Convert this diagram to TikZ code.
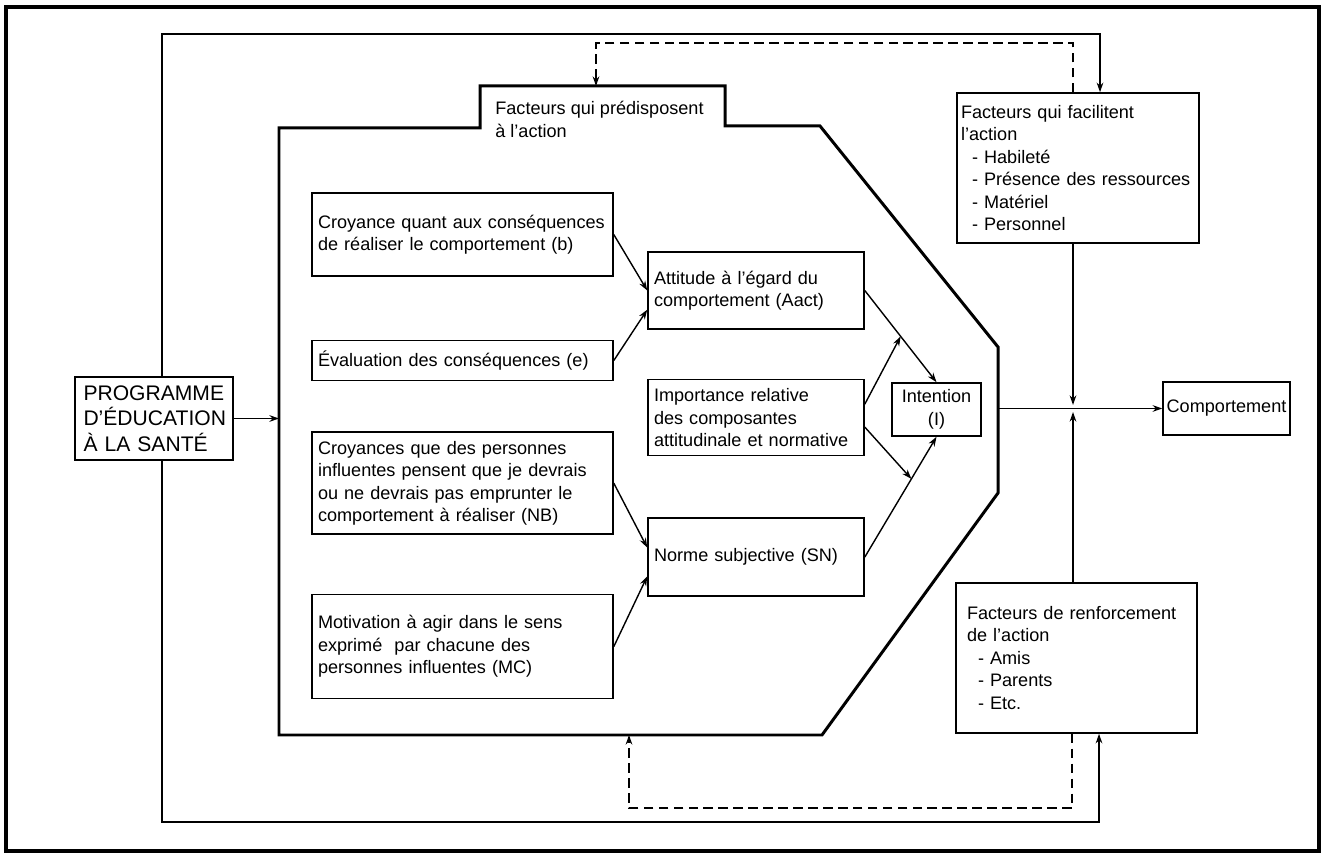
\documentclass[tikz,border=0pt]{standalone}
\usepackage{fontspec}
\setmainfont{Liberation Sans}
\usepackage{tikz}
\usetikzlibrary{arrows.meta,positioning}
\newcommand{\bodysize}{\fontsize{10.3pt}{12.8pt}\selectfont}
\newcommand{\progsize}{\fontsize{12pt}{14.5pt}\selectfont}
\newcommand{\itm}{\hspace*{0.22cm}- }

\begin{document}
\begin{tikzpicture}[
    x=0.02cm, y=-0.02cm,
    box/.style={rectangle, draw=black, line width=0.9pt, fill=white, font=\bodysize, align=left, inner xsep=0.12cm, inner ysep=0pt},
    leftbox/.style={box, text width=5.78cm, minimum height=#1},
    midbox/.style={box, text width=4.08cm, minimum height=#1},
    hexa/.style={line width=1.7pt, line join=miter},
    frame/.style={line width=0.8pt},
    arrow/.style={-{Stealth[length=5.5pt, width=3.8pt]}, line width=0.8pt},
    dasharrow/.style={arrow, dash pattern=on 5.5pt off 3pt},
    lbl/.style={font=\bodysize, align=left, inner sep=0pt}
]
\useasboundingbox (0,0) rectangle (1324,857);
\draw[line width=2.3pt] (6,7) rectangle (1319,851);

% Predisposing factors
\coordinate (h1) at (279,128);
\coordinate (h2) at (480,128);
\coordinate (h3) at (480,86);
\coordinate (h4) at (725,86);
\coordinate (h5) at (725,126);
\coordinate (h6) at (820,126);
\coordinate (h7) at (998,347);
\coordinate (h8) at (998,493);
\coordinate (h9) at (822,735);
\coordinate (h10) at (279,735);
\draw[hexa] (h1) -- (h2) -- (h3) -- (h4) -- (h5) -- (h6) -- (h7) -- (h8) -- (h9) -- (h10) -- cycle;
\node[lbl, anchor=north west] (predis) at (495,101) {Facteurs qui prédisposent\\à l'action};

% Beliefs
\node[leftbox=1.66cm] (croy) at (462.5,234.5) {Croyance quant aux conséquences\\de réaliser le comportement (b)};
\node[leftbox=0.8cm, below=1.26cm of croy] (eval) {Évaluation des conséquences (e)};
\node[leftbox=2.04cm, below=1.0cm of eval] (pers) {Croyances que des personnes\\influentes pensent que je devrais\\ou ne devrais pas emprunter le\\comportement à réaliser (NB)};
\node[leftbox=2.08cm, below=1.18cm of pers] (motiv) {Motivation à agir dans le sens\\exprimé\ \ par chacune des\\personnes influentes (MC)};

% Attitude, weights, norm
\node[midbox=1.54cm] (att) at (756,290.5) {Attitude à l'égard du\\comportement (Aact)};
\node[midbox=1.52cm, below=0.98cm of att] (impo) {Importance relative\\des composantes\\attitudinale et normative};
\node[midbox=1.56cm, below=1.22cm of impo] (norme) {Norme subjective (SN)};

% Intention and behaviour
\node[box, align=center, inner xsep=0.06cm, minimum width=1.78cm, minimum height=1.06cm] (int) at (936.5,409.5) {Intention\\(I)};
\node[box, inner xsep=0.06cm, minimum width=2.54cm, minimum height=1.06cm] (comp) at (1226.5,408.5) {Comportement};

% Programme
\node[box, font=\progsize, text width=2.82cm, inner xsep=0.17cm, minimum height=1.66cm] (prog) at (154,418.5) {PROGRAMME\\D'ÉDUCATION\\À LA SANTÉ};

% Enabling and reinforcing factors
\node[box, text width=4.68cm, inner xsep=0.08cm, minimum height=3.0cm] (fac) at (1078,168) {Facteurs qui facilitent\\l'action\\\itm Habileté\\\itm Présence des ressources\\\itm Matériel\\\itm Personnel};
\node[box, text width=4.38cm, inner xsep=0.22cm, minimum height=3.0cm] (renf) at (1076.5,658) {Facteurs de renforcement\\de l'action\\\itm Amis\\\itm Parents\\\itm Etc.};

% Arrows
\draw[arrow] (croy.east) -- (att.west);
\draw[arrow] (eval.east) -- (att.190);
\draw[arrow] (pers.east) -- (norme.175);
\draw[arrow] (motiv.east) -- (norme.190);
\draw[arrow] (att.east) -- coordinate[pos=0.5] (w1) (int.north);
\draw[arrow] (norme.east) -- coordinate[pos=0.65] (w2) (int.south);
\draw[arrow] (impo.7) -- (w1);
\draw[arrow] (impo.-5) -- (w2);
\draw[arrow] (prog.east) -- (prog.east -| h1);
\draw[arrow] (comp.west -| h7) -- (comp.west);

\coordinate (jn) at ([xshift=-0.1cm]fac.south |- comp.west);
\draw[arrow, shorten >=2pt] (jn |- fac.south) -- (jn);
\draw[arrow, shorten >=2pt] (jn |- renf.north) -- (jn);

% Outer loop
\coordinate (ftl) at (162,34);
\coordinate (ftr) at (1100,34);
\coordinate (fbl) at (162,822);
\coordinate (fbr) at (1099,822);
\draw[arrow] (ftl |- prog.north) -- (ftl) -- (ftr) -- (ftr |- fac.north);
\draw[arrow] (fbl |- prog.south) -- (fbl) -- (fbr) -- (fbr |- renf.south);

% Feedback
\coordinate (dtl) at (596,43);
\coordinate (dtr) at (1073,43);
\coordinate (dbl) at (629,808);
\coordinate (dbr) at (1072,808);
\draw[dasharrow] (dtr |- fac.north) -- (dtr) -- (dtl) -- (dtl |- h3);
\draw[dasharrow] (dbr |- renf.south) -- (dbr) -- (dbl) -- (dbl |- h10);

\end{tikzpicture}
\end{document}
